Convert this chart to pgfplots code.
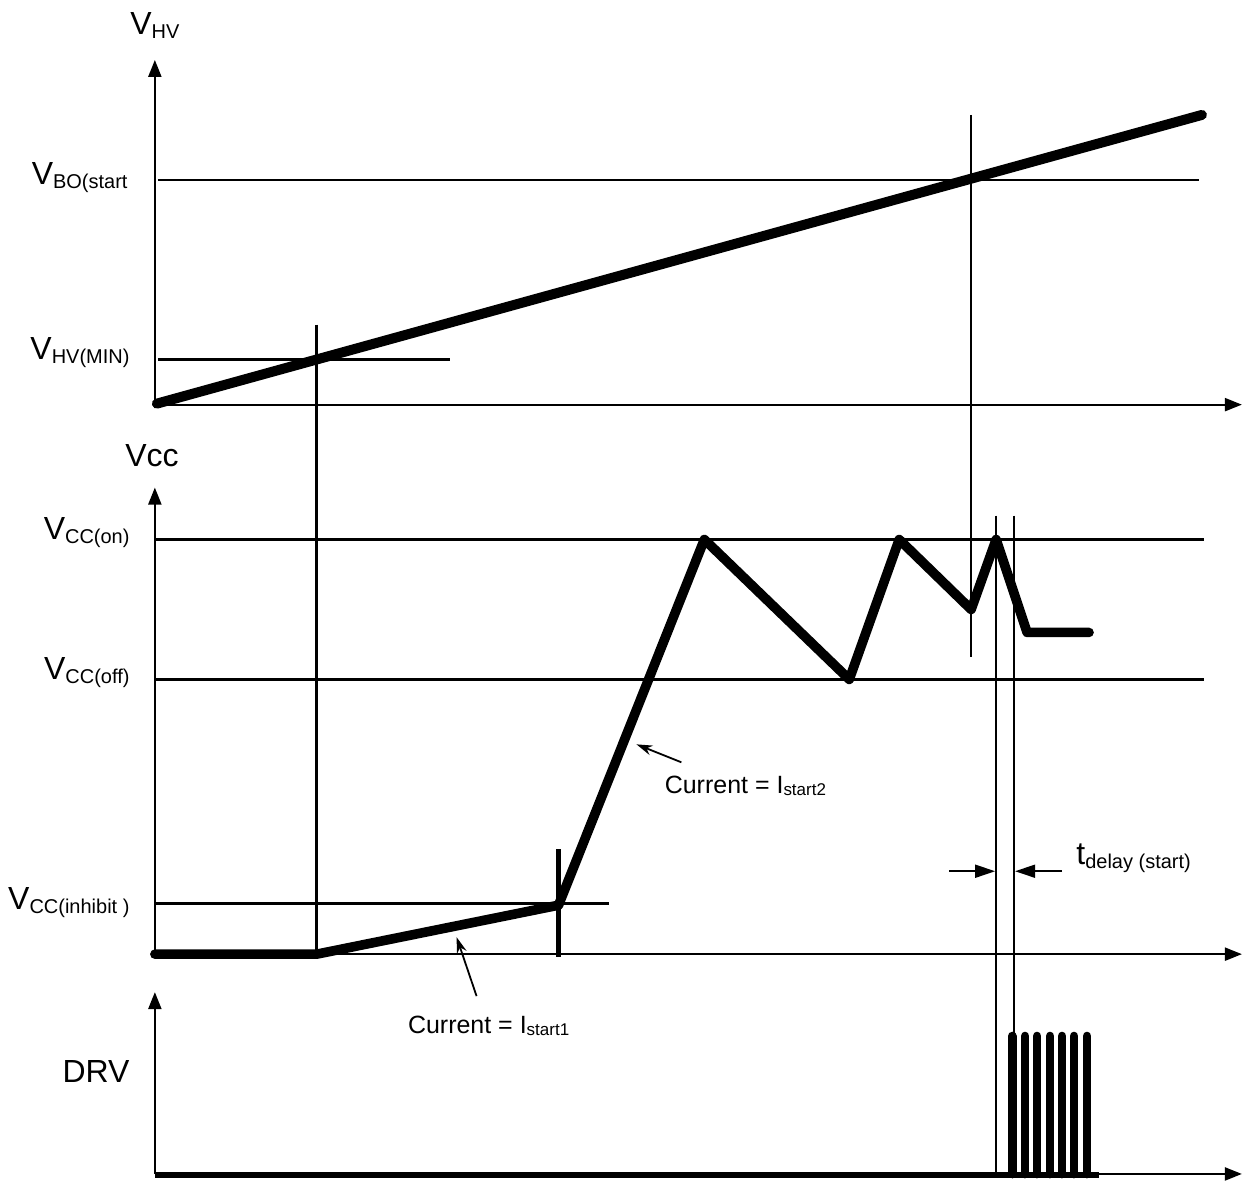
\documentclass[border=0pt]{standalone}
\usepackage{pgfplots}
\pgfplotsset{compat=1.18}
\usepackage{fontspec}
\setmainfont{Liberation Sans}
\usetikzlibrary{arrows.meta}
\newcommand\biglab[2]{{\fontsize{16}{16}\selectfont #1}\raisebox{-2pt}{\fontsize{10}{10}\selectfont #2}}
\tikzset{
  thinl/.style={black, line width=1.3pt, mark=none},
  axl/.style={black, line width=1.1pt, mark=none, -{Triangle[length=8.5pt,width=6.5pt]}},
  heavy/.style={black, line width=4.8pt, mark=none, line cap=round, line join=round},
  pulse/.style={black, line width=4.4pt, mark=none, line cap=round},
  lbl/.style={inner sep=0pt}}
\begin{document}
\begin{tikzpicture}
\begin{axis}[scale only axis, width=621.5pt, height=591pt,
  xmin=0, xmax=1243, ymin=0, ymax=1182, y dir=reverse,
  hide axis, clip=false]
\path (rel axis cs:0,0) rectangle (rel axis cs:1,1);
% ---- top panel: V_HV ----
\addplot[axl] coordinates {(155,405) (155,60)};
\addplot[axl] coordinates {(155,405) (1243,405)};
\addplot[thinl] coordinates {(158,180) (1200,180)};
\addplot[thinl] coordinates {(158,360) (450,360)};
\addplot[heavy, line width=5pt] coordinates {(157,404) (1203,115)};
\addplot[thinl, line width=1.5pt] coordinates {(317,325) (317,955)};
\addplot[thinl] coordinates {(972,115) (972,658)};
% ---- middle panel: Vcc ----
\addplot[axl] coordinates {(155,955) (155,488)};
\addplot[axl] coordinates {(155,955) (1243,955)};
\addplot[thinl] coordinates {(155,540) (1205,540)};
\addplot[thinl] coordinates {(155,680) (1205,680)};
\addplot[thinl] coordinates {(155,904) (610,904)};
\addplot[black, line width=2.4pt, mark=none] coordinates {(559,850) (559,958)};
\addplot[heavy] coordinates {(155,955) (317,955) (559,906) (705,540) (850,680) (900,540) (972,610) (997,540) (1028,633) (1090,633)};
\addplot[thinl] coordinates {(997,516) (997,1175)};
\addplot[thinl] coordinates {(1015,516) (1015,1175)};
% t_delay arrows
\addplot[black, line width=0.9pt, mark=none, -{Triangle[length=10pt,width=6.5pt]}] coordinates {(950,872) (996,872)};
\addplot[black, line width=0.9pt, mark=none, -{Triangle[length=10pt,width=6.5pt]}] coordinates {(1063,872) (1016,872)};
% current arrows
\addplot[black, line width=0.9pt, mark=none, -{Stealth[length=8pt,width=5pt]}] coordinates {(682,763) (637,745)};
\addplot[black, line width=0.9pt, mark=none, -{Stealth[length=8pt,width=5pt]}] coordinates {(477,997) (457,938)};
% ---- bottom panel: DRV ----
\addplot[axl] coordinates {(155,1175) (155,993)};
\addplot[axl] coordinates {(155,1175) (1243,1175)};
\addplot[black, line width=3.2pt, mark=none] coordinates {(155,1176) (1100,1176)};
\addplot[pulse] coordinates {(1013,1175) (1013,1037)};
\addplot[pulse] coordinates {(1026,1175) (1026,1037)};
\addplot[pulse] coordinates {(1038,1175) (1038,1037)};
\addplot[pulse] coordinates {(1051,1175) (1051,1037)};
\addplot[pulse] coordinates {(1063,1175) (1063,1037)};
\addplot[pulse] coordinates {(1075,1175) (1075,1037)};
\addplot[pulse] coordinates {(1088,1175) (1088,1037)};
% ---- labels ----
\node[lbl, anchor=base west] at (axis cs:130,35) {\biglab{V}{HV}};
\node[lbl, anchor=base east] at (axis cs:128,185) {\biglab{V}{BO(start}};
\node[lbl, anchor=base east] at (axis cs:130,360) {\biglab{V}{HV(MIN)}};
\node[lbl, anchor=base west] at (axis cs:125,467) {\fontsize{16}{16}\selectfont Vcc};
\node[lbl, anchor=base east] at (axis cs:130,540) {\biglab{V}{CC(on)}};
\node[lbl, anchor=base east] at (axis cs:130,680) {\biglab{V}{CC(off)}};
\node[lbl, anchor=base east] at (axis cs:130,910) {\biglab{V}{CC(inhibit )}};
\node[lbl, anchor=base east] at (axis cs:130,1083) {\fontsize{16}{16}\selectfont DRV};
\node[lbl, anchor=base west] at (axis cs:665,794) {\fontsize{12.5}{12.5}\selectfont Current = I\raisebox{-1pt}{\fontsize{8.5}{8.5}\selectfont start2}};
\node[lbl, anchor=base west] at (axis cs:408,1034) {\fontsize{12.5}{12.5}\selectfont Current = I\raisebox{-1pt}{\fontsize{8.5}{8.5}\selectfont start1}};
\node[lbl, anchor=base west] at (axis cs:1077,865) {\biglab{t}{delay (start)}};
\end{axis}
\end{tikzpicture}
\end{document}
